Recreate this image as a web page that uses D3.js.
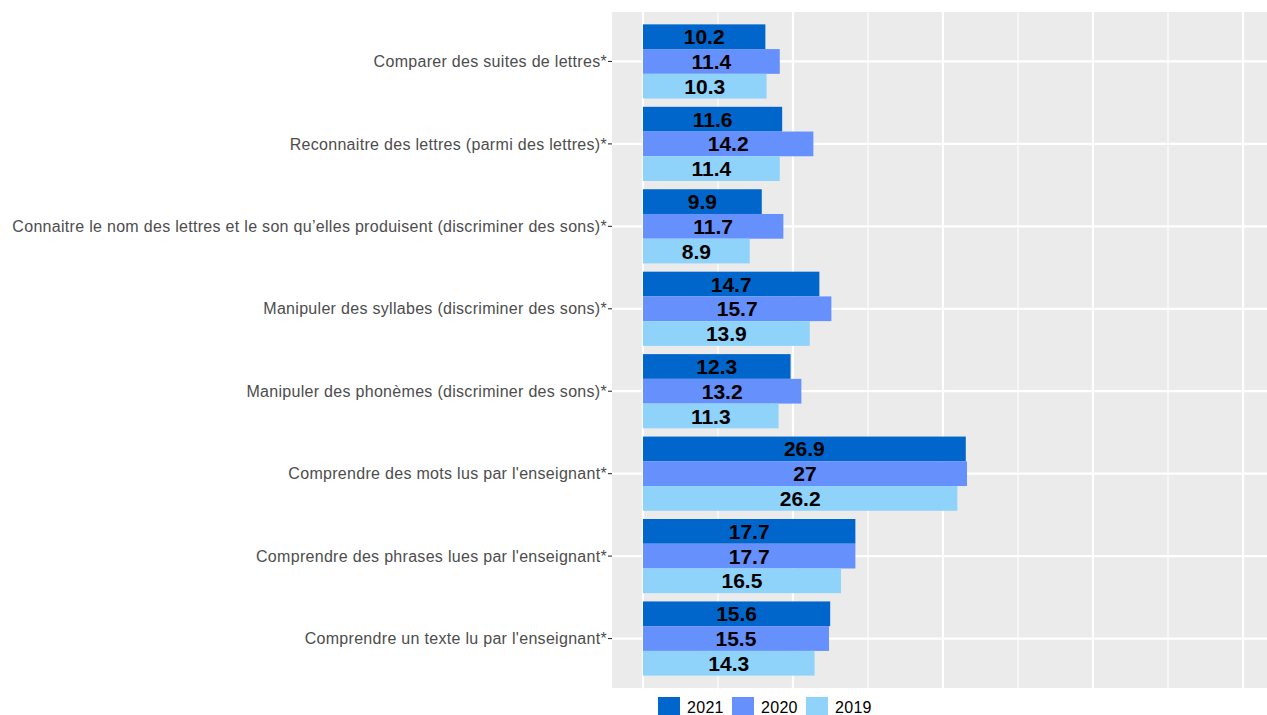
<!DOCTYPE html>
<html>
<head>
<meta charset="utf-8">
<script src="https://cdn.jsdelivr.net/npm/d3@7"></script>
<style>
  body { margin: 0; background: #fff; }
  svg { display: block; font-family: "Liberation Sans", Arial, sans-serif; }
</style>
</head>
<body>
<svg id="chart" width="1267" height="715"></svg>
<script>
const categories = [
  "Comparer des suites de lettres*",
  "Reconnaitre des lettres (parmi des lettres)*",
  "Connaitre le nom des lettres et le son qu\u2019elles produisent (discriminer des sons)*",
  "Manipuler des syllabes (discriminer des sons)*",
  "Manipuler des phonèmes (discriminer des sons)*",
  "Comprendre des mots lus par l'enseignant*",
  "Comprendre des phrases lues par l'enseignant*",
  "Comprendre un texte lu par l'enseignant*"
];
const years = ["2021", "2020", "2019"];
const values2021 = [10.2, 11.6, 9.9, 14.7, 12.3, 26.9, 17.7, 15.6];
const values2020 = [11.4, 14.2, 11.7, 15.7, 13.2, 27, 17.7, 15.5];
const values2019 = [10.3, 11.4, 8.9, 13.9, 11.3, 26.2, 16.5, 14.3];
const colors = ["#0066cc", "#6690fc", "#8fd3fa"];

const series = [values2021, values2020, values2019];
const svg = d3.select("#chart");

const panel = { left: 612, right: 1267, top: 12, bottom: 688 };

const x = d3.scaleLinear().domain([-2.58, 52]).range([panel.left, panel.right]);
// ggplot style: category centres, with 0.6 expansion each side
const yc = d3.scalePoint().domain(categories)
  .range([panel.top, panel.bottom]).padding(0.6);
const step = yc.step();
const groupH = step * 0.9;
const barH = groupH / 3;

const g = svg.append("g");

g.append("rect")
  .attr("x", panel.left).attr("y", panel.top)
  .attr("width", panel.right - panel.left).attr("height", panel.bottom - panel.top)
  .attr("fill", "#ebebeb");

// gridlines
const major = [0, 12.5, 25, 37.5, 50];
const minor = [6.25, 18.75, 31.25, 43.75];
g.selectAll(".minor").data(minor).enter().append("line")
  .attr("x1", d => x(d)).attr("x2", d => x(d))
  .attr("y1", panel.top).attr("y2", panel.bottom)
  .attr("stroke", "#fff").attr("stroke-width", 1.1);
g.selectAll(".major").data(major).enter().append("line")
  .attr("x1", d => x(d)).attr("x2", d => x(d))
  .attr("y1", panel.top).attr("y2", panel.bottom)
  .attr("stroke", "#fff").attr("stroke-width", 2.2);
g.selectAll(".hgrid").data(categories).enter().append("line")
  .attr("x1", panel.left).attr("x2", panel.right)
  .attr("y1", d => yc(d)).attr("y2", d => yc(d))
  .attr("stroke", "#fff").attr("stroke-width", 2.2);

// bars
series.forEach((vals, si) => {
  const bars = g.append("g");
  bars.selectAll("rect").data(vals).enter().append("rect")
    .attr("x", x(0))
    .attr("y", (d, i) => yc(categories[i]) - groupH / 2 + si * barH)
    .attr("width", d => x(d) - x(0))
    .attr("height", barH)
    .attr("fill", colors[si]);
  bars.selectAll("text").data(vals).enter().append("text")
    .attr("x", d => x(d / 2))
    .attr("y", (d, i) => yc(categories[i]) - groupH / 2 + si * barH + barH / 2)
    .attr("dy", "0.36em")
    .attr("text-anchor", "middle")
    .attr("font-size", 21)
    .attr("font-weight", "bold")
    .attr("fill", "#000")
    .text(d => d);
});

// y axis labels and ticks
const ax = g.append("g");
ax.selectAll("line").data(categories).enter().append("line")
  .attr("x1", panel.left - 4).attr("x2", panel.left)
  .attr("y1", d => yc(d)).attr("y2", d => yc(d))
  .attr("stroke", "#333").attr("stroke-width", 1.1);
ax.selectAll("text").data(categories).enter().append("text")
  .attr("x", panel.left - 5)
  .attr("y", d => yc(d))
  .attr("dy", "0.35em")
  .attr("text-anchor", "end")
  .attr("font-size", 16)
  .attr("letter-spacing", 0.3)
  .attr("fill", "#4d4d4d")
  .text(d => d);

// legend
const legendX = [658, 732, 806];
const leg = g.append("g");
years.forEach((yr, i) => {
  leg.append("rect")
    .attr("x", legendX[i]).attr("y", 697)
    .attr("width", 22).attr("height", 22)
    .attr("fill", colors[i]);
  leg.append("text")
    .attr("x", legendX[i] + 29).attr("y", 713)
    .attr("font-size", 16)
    .attr("letter-spacing", 0.3)
    .attr("fill", "#000")
    .text(yr);
});
</script>
</body>
</html>
